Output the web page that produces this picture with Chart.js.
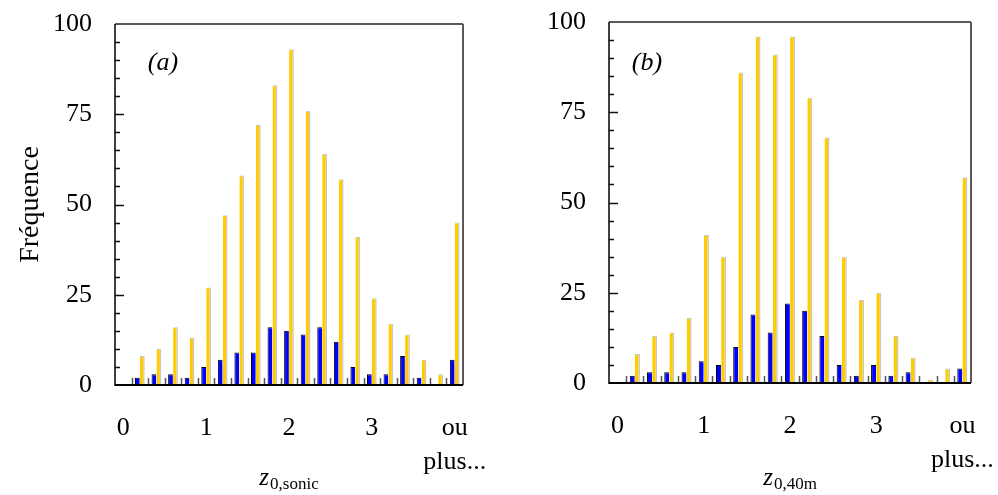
<!DOCTYPE html>
<html>
<head>
<meta charset="utf-8">
<script src="https://cdn.jsdelivr.net/npm/chart.js@4/dist/chart.umd.min.js"></script>
<style>
  body { margin: 0; background: #fff; }
  #wrap { position: relative; width: 998px; height: 495px; }
  canvas { position: absolute; top: 0; }
  #chartA { left: 0; }
  #chartB { left: 499px; }
</style>
</head>
<body>
<div id="wrap">
  <canvas id="chartA" width="499" height="495"></canvas>
  <canvas id="chartB" width="499" height="495"></canvas>
</div>
<script>
// Histogram bins (class upper limits), last one is the overflow class
const bins = ['0', '0.2', '0.4', '0.6', '0.8', '1', '1.2', '1.4', '1.6', '1.8', '2',
              '2.2', '2.4', '2.6', '2.8', '3', '3.2', '3.4', '3.6', '3.8', 'ou plus...'];
const tickLabels = ['0', '1', '2', '3', 'ou plus...'];
const yTicks = [0, 25, 50, 75, 100];

// (a) z0,sonic
const blueA   = [0, 2, 3, 3, 2, 5, 7, 9, 9, 16, 15, 14, 16, 12, 5, 3, 3, 8, 2, 0, 7];
const yellowA = [0, 8, 10, 16, 13, 27, 47, 58, 72, 83, 93, 76, 64, 57, 41, 24, 17, 14, 7, 3, 45];

// (b) z0,40m
const blueB   = [0, 2, 3, 3, 3, 6, 5, 10, 19, 14, 22, 20, 13, 5, 2, 5, 2, 3, 0, 0, 4];
const yellowB = [0, 8, 13, 14, 18, 41, 35, 86, 96, 91, 96, 79, 68, 35, 23, 25, 13, 7, 1, 4, 57];

const SERIF = '"Liberation Serif", "DejaVu Serif", serif';
Chart.defaults.font.family = SERIF;
Chart.defaults.color = '#000';

function line(ctx, x1, y1, x2, y2) {
    ctx.beginPath();
    ctx.moveTo(x1, y1);
    ctx.lineTo(x2, y2);
    ctx.stroke();
}

// inward ticks, plot frame, panel tag and x title with subscript
const frame = {
    id: 'frame',
    afterDatasetsDraw(chart, args, opts) {
        const ctx = chart.ctx;
        const a = chart.chartArea;
        const x = chart.scales.x, y = chart.scales.y;
        ctx.save();

        ctx.strokeStyle = '#111';
        ctx.lineWidth = 1.5;
        y.ticks.forEach(t => {
            if (t.value <= 0 || t.value >= 100) return;
            const py = Math.round(y.getPixelForValue(t.value)) + 0.5;
            const len = t.value % 25 === 0 ? 9 : 5;
            line(ctx, a.left, py, a.left + len, py);
        });

        ctx.strokeStyle = '#555';
        ctx.lineWidth = 1.5;
        for (let i = 1; i < x.ticks.length; i++) {
            const px = Math.round((x.getPixelForValue(i - 1) + x.getPixelForValue(i)) / 2) + 0.5;
            line(ctx, px, a.bottom, px, a.bottom - 7);
        }

        // top and right border in grey, left and bottom axes in black
        ctx.strokeStyle = '#5a5a5a';
        ctx.lineWidth = 2;
        line(ctx, a.left, a.top, a.right, a.top);
        line(ctx, a.right, a.top, a.right, a.bottom);
        ctx.strokeStyle = '#000';
        ctx.lineWidth = 1.5;
        line(ctx, a.left, a.top, a.left, a.bottom + 1);
        ctx.lineWidth = 2;
        line(ctx, a.left, a.bottom, a.right, a.bottom);

        ctx.fillStyle = '#000';
        ctx.textBaseline = 'alphabetic';
        ctx.textAlign = 'center';
        ctx.font = 'italic 26px ' + SERIF;
        ctx.fillText(opts.tag, a.left + opts.tagDx, 70);

        // x axis title: z with subscript
        ctx.textAlign = 'left';
        ctx.font = 'italic 25px ' + SERIF;
        const w1 = ctx.measureText(opts.sym).width;
        ctx.font = '17px ' + SERIF;
        const w2 = ctx.measureText(opts.sub).width;
        const x0 = (a.left + a.right) / 2 - (w1 + w2 + 1) / 2;
        ctx.font = 'italic 25px ' + SERIF;
        ctx.fillText(opts.sym, x0, 485);
        ctx.font = '17px ' + SERIF;
        ctx.fillText(opts.sub, x0 + w1 + 1, 489);

        ctx.restore();
    }
};

function makeChart(id, blue, yellow, cfg) {
    const ctx = document.getElementById(id).getContext('2d');
    return new Chart(ctx, {
        type: 'bar',
        data: {
            labels: bins,
            datasets: [{
                data: blue,
                backgroundColor: '#0000ff',
                borderColor: '#000',
                borderWidth: { left: 1, top: 1, right: 0, bottom: 0 },
                borderSkipped: false,
                categoryPercentage: 0.6,
                barPercentage: 0.96
            }, {
                data: yellow,
                backgroundColor: '#ffcc00',
                borderColor: '#c8c8c8',
                borderWidth: { left: 0, top: 1, right: 1.5, bottom: 0 },
                borderSkipped: false,
                categoryPercentage: 0.6,
                barPercentage: 0.96
            }]
        },
        options: {
            responsive: false,
            devicePixelRatio: 1,
            animation: false,
            layout: { padding: { top: cfg.top, right: cfg.right, left: 0, bottom: 0 } },
            plugins: {
                legend: { display: false },
                tooltip: { enabled: false },
                frame: { tag: cfg.tag, tagDx: cfg.tagDx, sym: 'z', sub: cfg.sub }
            },
            scales: {
                x: {
                    grid: { display: false, drawTicks: false },
                    border: { display: false },
                    afterFit: s => {
                        s.height = cfg.xHeight;
                        s.paddingLeft = 0;
                        s.paddingRight = 0;
                    },
                    ticks: {
                        autoSkip: false,
                        maxRotation: 0,
                        padding: 26,
                        font: { size: 26, lineHeight: 1.32 },
                        callback: function(v) {
                            const lab = this.getLabelForValue(v);
                            if (!tickLabels.includes(lab)) return '';
                            return lab === 'ou plus...' ? ['ou', 'plus...'] : lab;
                        }
                    }
                },
                y: {
                    min: 0,
                    max: 100,
                    grid: { display: false, drawTicks: false },
                    border: { display: false },
                    afterFit: s => {
                        s.width = cfg.yWidth;
                        s.paddingTop = 0;
                        s.paddingBottom = 0;
                    },
                    title: {
                        display: cfg.yTitle !== '',
                        text: cfg.yTitle,
                        font: { size: 28 },
                        padding: { top: 14, bottom: 0 }
                    },
                    ticks: {
                        stepSize: 5,
                        autoSkip: false,
                        padding: 23,
                        font: { size: 26 },
                        callback: v => yTicks.includes(v) ? v : ''
                    }
                }
            }
        },
        plugins: [frame]
    });
}

makeChart('chartA', blueA, yellowA, {
    top: 24, right: 36, xHeight: 110, yWidth: 115,
    tag: '(a)', tagDx: 48, sub: '0,sonic', yTitle: 'Fréquence'
});
makeChart('chartB', blueB, yellowB, {
    top: 22, right: 27, xHeight: 112, yWidth: 110,
    tag: '(b)', tagDx: 38, sub: '0,40m', yTitle: ''
});
</script>
</body>
</html>
